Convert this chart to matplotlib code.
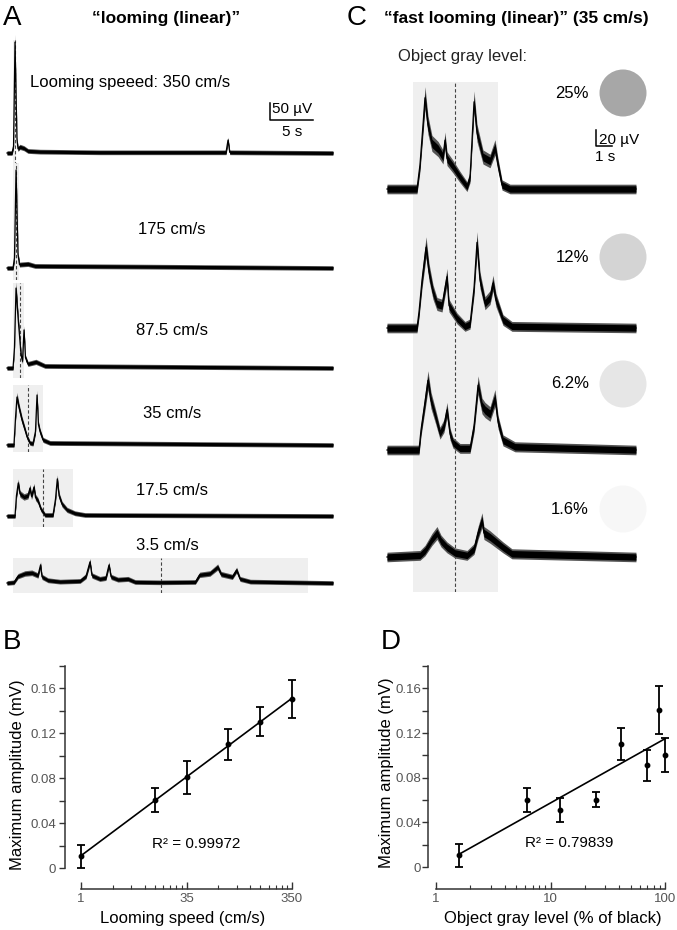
import numpy as np
import matplotlib.pyplot as plt
from matplotlib.patches import Circle

plt.rcParams['font.family'] = ['Liberation Sans', 'DejaVu Sans']

W, H = 677, 930

# ---- A: looming traces, time (s) and amplitude (uV) above baseline ----
a_labels = ['Looming speeed: 350 cm/s', '175 cm/s', '87.5 cm/s', '35 cm/s', '17.5 cm/s', '3.5 cm/s']
a_t = [
    [0, 0.58, 0.76, 0.93, 1.16, 1.28, 1.51, 1.98, 2.44, 3.84, 10.8, 25.47, 25.7, 25.9, 37.9],
    [0, 0.70, 0.87, 1.05, 1.28, 1.45, 2.44, 3.26, 16.6, 37.9],
    [0, 0.70, 0.87, 1.05, 1.28, 1.63, 1.80, 1.98, 2.15, 2.44, 3.37, 4.42, 37.9],
    [0, 0.81, 0.99, 1.16, 1.40, 1.74, 2.09, 2.33, 2.67, 3.02, 3.31, 3.49, 3.66, 3.84, 4.19, 5.0, 37.9],
    [0, 0.93, 1.10, 1.31, 1.51, 1.98, 2.44, 2.67, 2.85, 3.14, 3.31, 3.60, 3.95, 4.42, 5.35, 5.64, 5.85,
     6.05, 6.40, 6.98, 7.90, 9.07, 37.9],
    [0, 0.81, 1.28, 2.09, 2.90, 3.60, 3.90, 4.07, 4.77, 6.16, 8.50, 9.19, 9.65, 9.88, 10.8, 11.5, 11.86,
     12.1, 12.9, 14.07, 14.9, 17.8, 21.9, 22.4, 23.6, 24.5, 24.9, 26.2, 26.7, 27.1, 28.3, 37.9],
]
a_v = [
    [0, 0, 20, 326, 40, 12, 18, 14, 6, 4, 2, 2, 38, 2, 0],
    [0, 0, 30, 288, 40, 10, 12, 6, 4, 0],
    [0, 0, 60, 235, 150, 40, 20, 112, 30, 12, 18, 6, 0],
    [0, 0, 80, 141, 110, 74, 45, 24, 6, 4, 40, 147, 60, 40, 15, 6, 0],
    [0, 0, 60, 97, 65, 56, 60, 82, 58, 85, 55, 45, 20, 3, 3, 50, 109, 60, 35, 18, 8, 3, 0],
    [0, 2, 20, 28, 30, 22, 53, 18, 8, 4, 6, 20, 62, 22, 12, 15, 53, 18, 10, 12, 3, 2, 3, 24, 28, 47,
     26, 18, 38, 12, 4, 0],
]
a_shade = [(0.70, 1.05), (0.70, 1.40), (0.70, 1.98), (0.70, 4.19), (0.70, 7.67), (0.70, 35.0)]
a_dash = [0.93, 1.01, 1.50, 2.44, 4.22, 17.9]

# ---- C: fast looming at 35 cm/s, by object gray level ----
c_labels = ['25%', '12%', '6.2%', '1.6%']
c_colors = ['#a7a7a7', '#d4d4d4', '#e6e6e6', '#f7f7f7']
c_t = [
    [0, 1.875, 2.06, 2.25, 2.375, 2.56, 2.81, 3.19, 3.5, 3.625, 3.75, 4.125, 4.56, 5.0, 5.19, 5.31, 5.44,
     5.625, 6.0, 6.44, 6.75, 6.94, 7.19, 7.69, 15.56],
    [0, 1.875, 2.0, 2.19, 2.44, 2.625, 2.875, 3.125, 3.44, 3.75, 3.875, 4.375, 4.875, 5.19, 5.44, 5.625,
     5.81, 6.125, 6.44, 6.625, 6.81, 7.25, 7.81, 15.56],
    [0, 2.0, 2.125, 2.375, 2.56, 2.75, 3.06, 3.31, 3.56, 3.75, 3.94, 4.125, 4.56, 5.19, 5.44, 5.69, 5.94,
     6.125, 6.44, 6.75, 6.94, 7.25, 8.0, 15.56],
    [0, 2.06, 2.375, 2.81, 3.125, 3.375, 3.75, 4.25, 5.0, 5.44, 5.69, 5.94, 6.06, 6.44, 6.875, 7.25,
     7.81, 15.56],
]
c_v = [
    [0, 0, 30, 80, 114, 80, 57, 50, 40, 61, 38, 28, 15, 3, 15, 60, 109, 70, 40, 35, 52, 30, 5, 0, 0],
    [0, 0, 20, 60, 101, 70, 45, 30, 28, 64, 28, 12, 2, 5, 50, 107, 60, 31, 38, 56, 35, 10, 2, 0],
    [0, 0, 25, 60, 87, 62, 40, 21, 30, 50, 20, 9, 2, 2, 30, 81, 55, 50, 45, 65, 35, 12, 4, 0],
    [0, 2, 8, 22, 30, 20, 12, 5, 2, 10, 30, 46, 30, 25, 18, 12, 4, 0],
]
c_shade = (1.625, 6.94)
c_dash = 4.25

# ---- B: max amplitude vs looming speed ----
speed = [3.5, 17.5, 35, 87.5, 175, 350]
amp_b = [0.0104, 0.0604, 0.0806, 0.110, 0.130, 0.150]
err_b = [0.010, 0.0104, 0.0146, 0.014, 0.0127, 0.017]
speed_ticks = [3.5, 35, 350]
speed_ticklabels = ['1', '35', '350']

# ---- D: max amplitude vs object gray level ----
gray = [1.6, 6.2, 12, 25, 41, 70, 88, 100]
amp_d = [0.0104, 0.0604, 0.051, 0.0604, 0.110, 0.091, 0.1407, 0.1004]
err_d = [0.0104, 0.0107, 0.011, 0.0071, 0.0142, 0.0136, 0.0218, 0.015]

fig = plt.figure(figsize=(W / 100, H / 100), dpi=100)


def px_axes(x0, y0, x1, y1):
    ax = fig.add_axes([x0 / W, 1 - y1 / H, (x1 - x0) / W, (y1 - y0) / H])
    ax.set_axis_off()
    ax.patch.set_alpha(0)
    return ax


def ftext(x, y, s, **kw):
    kw.setdefault('va', 'center')
    return fig.text(x / W, 1 - y / H, s, **kw)


def draw_trace(ax, t, v, noise, gain):
    t = np.asarray(t, float)
    v = np.asarray(v, float)
    # fuzzy outer band + dark core, to suggest the recorded noise
    w_out = 1.5 * noise + gain * v
    ax.fill_between(t, v - w_out, v + w_out, color='#555555', lw=0, clip_on=False)
    w_in = noise + 0.3 * gain * v
    ax.fill_between(t, v - w_in, v + w_in, color='k', lw=0, clip_on=False)
    ax.plot(t, v, color='k', lw=0.9, clip_on=False)


# ---------------- panel A ----------------
A_PX_S, A_PX_UV = 8.6, 0.34
a_rows = [(40, 165, 153), (163, 280, 268), (283, 378, 368), (385, 452, 445), (469, 527, 516), (558, 593, 583)]
a_text_pos = [(30, 82, 'left'), (172, 230, 'center'), (172, 330, 'center'), (172, 413, 'center'),
              (172, 490, 'center'), (167, 545, 'center')]
a_axes = []
for i, (top, bot, base) in enumerate(a_rows):
    ax = px_axes(7, top, 333, bot)
    ax.set_xlim(0, 326 / A_PX_S)
    ax.set_ylim((base - bot) / A_PX_UV, (base - top) / A_PX_UV)
    ax.axvspan(*a_shade[i], color='#efefef', lw=0, zorder=0)
    ax.axvline(a_dash[i], color='#444', lw=0.8, ls=(0, (3, 2)), zorder=1)
    draw_trace(ax, a_t[i], a_v[i], 4.5, 0.05)
    x, y, ha = a_text_pos[i]
    ftext(x, y, a_labels[i], ha=ha, fontsize=12)
    a_axes.append(ax)

# scale bar A (50 uV, 5 s)
ax = a_axes[0]
sx, sy = (270 - 7) / A_PX_S, (153 - 120) / A_PX_UV
ax.plot([sx, sx, sx + 5], [sy + 50, sy, sy], color='k', lw=1.1, clip_on=False)
ftext(292, 109, '50 µV', ha='center', fontsize=11)
ftext(292, 132, '5 s', ha='center', fontsize=11)

# ---------------- panel C ----------------
C_PX_S, C_PX_UV = 16, 0.8
bg = px_axes(387, 82, 636, 592)
bg.set_xlim(0, 249 / C_PX_S)
bg.set_ylim(0, 1)
bg.axvspan(*c_shade, color='#efefef', lw=0)
bg.axvline(c_dash, color='#444', lw=0.8, ls=(0, (3, 2)))

c_base = [189, 328, 450, 557]
c_lab_y = [93, 257, 384, 509]
c_axes = []
for i, base in enumerate(c_base):
    ax = px_axes(387, base - 120, 636, base + 15)
    ax.set_xlim(0, 249 / C_PX_S)
    ax.set_ylim(-15 / C_PX_UV, 120 / C_PX_UV)
    draw_trace(ax, c_t[i], c_v[i], 4, 0.07)
    ftext(589, c_lab_y[i], c_labels[i], ha='right', fontsize=12)
    fig.add_artist(Circle((6.23, (H - c_lab_y[i]) / 100), 0.235, transform=fig.dpi_scale_trans,
                          facecolor=c_colors[i], edgecolor='none'))
    c_axes.append(ax)

# scale bar C (20 uV, 1 s)
ax = c_axes[0]
sx, sy = (596 - 387) / C_PX_S, (189 - 146) / C_PX_UV
ax.plot([sx, sx, sx + 1], [sy + 20, sy, sy], color='k', lw=1.1, clip_on=False)
ftext(599, 140, '20 µV', ha='left', fontsize=11)
ftext(605, 157, '1 s', ha='center', fontsize=11)

ftext(398, 57, 'Object gray level:', ha='left', fontsize=12, color='#222')

# titles and panel letters
ftext(166, 18, '\u201clooming (linear)\u201d', ha='center', fontsize=12.5, fontweight='bold')
ftext(516, 19, '\u201cfast looming (linear)\u201d (35 cm/s)', ha='center', fontsize=12.5, fontweight='bold')
for x, y, s in [(12, 18, 'A'), (357, 18, 'C'), (12, 642, 'B'), (391, 642, 'D')]:
    ftext(x, y, s, ha='center', fontsize=20)


# ---------------- panels B and D ----------------
def style_scatter_axes(ax, left_out, bottom_out, xlo, xhi, ypad):
    for s in ['top', 'right']:
        ax.spines[s].set_visible(False)
    ax.spines['left'].set_position(('outward', left_out * 0.72))
    ax.spines['bottom'].set_position(('outward', bottom_out * 0.72))
    ax.spines['left'].set_bounds(0, 0.18)
    ax.spines['bottom'].set_bounds(xlo, xhi)
    for s in ['left', 'bottom']:
        ax.spines[s].set_color('#333')
        ax.spines[s].set_linewidth(1.1)
    ax.set_ylim(0, 0.18)
    ax.set_yticks([0, 0.04, 0.08, 0.12, 0.16])
    ax.set_yticklabels(['0', '0.04', '0.08', '0.12', '0.16'])
    ax.set_yticks([0.02, 0.06, 0.10, 0.14, 0.18], minor=True)
    ax.tick_params(axis='y', which='both', direction='out', length=4, width=1.0, color='#333',
                   labelsize=9.5, labelcolor='#555', pad=ypad)
    ax.tick_params(axis='x', which='major', direction='in', length=5, width=1.0, color='#333',
                   labelsize=9.5, labelcolor='#555', pad=3)
    ax.tick_params(axis='x', which='minor', direction='in', length=3, width=0.8, color='#333')


def scatter_fit(ax, x, y, e):
    eb = ax.errorbar(x, y, yerr=e, fmt='o', color='k', ms=3.2, elinewidth=1.3, capsize=2.6,
                     capthick=1.3, zorder=3)
    for art in eb.get_children():
        art.set_clip_on(False)
    k, b = np.polyfit(np.log10(x), y, 1)
    xx = np.array([min(x), max(x)])
    ax.plot(xx, k * np.log10(xx) + b, color='k', lw=1.2, clip_on=False)


axB = fig.add_axes([81 / W, 1 - 868 / H, 211 / W, 202.5 / H])
axB.patch.set_alpha(0)
axB.set_xscale('log')
axB.set_xlim(speed_ticks[0], speed_ticks[-1])
style_scatter_axes(axB, 16, 21, speed_ticks[0], speed_ticks[-1], 2.5)
axB.set_xticks(speed_ticks)
axB.set_xticklabels(speed_ticklabels)
axB.set_xticks([3.5 * k for k in range(2, 10)] + [35 * k for k in range(2, 10)], minor=True)
axB.xaxis.set_minor_formatter(plt.NullFormatter())
scatter_fit(axB, speed, amp_b, err_b)
ftext(152, 844, 'R² = 0.99972', ha='left', fontsize=11)
ftext(18, 775, 'Maximum amplitude (mV)', ha='center', rotation=90, fontsize=12)
ftext(183, 918, 'Looming speed (cm/s)', ha='center', fontsize=12)

axD = fig.add_axes([436 / W, 1 - 867 / H, 229 / W, 201 / H])
axD.patch.set_alpha(0)
axD.set_xscale('log')
axD.set_xlim(1, 100)
style_scatter_axes(axD, 8, 22, 1, 100, 1)
axD.set_xticks([1, 10, 100])
axD.set_xticklabels(['1', '10', '100'])
axD.xaxis.set_minor_formatter(plt.NullFormatter())
scatter_fit(axD, gray, amp_d, err_d)
ftext(525, 843, 'R² = 0.79839', ha='left', fontsize=11)
ftext(386, 773, 'Maximum amplitude (mV)', ha='center', rotation=90, fontsize=12)
ftext(553, 918, 'Object gray level (% of black)', ha='center', fontsize=12)

fig.savefig('out.png', dpi=100)
